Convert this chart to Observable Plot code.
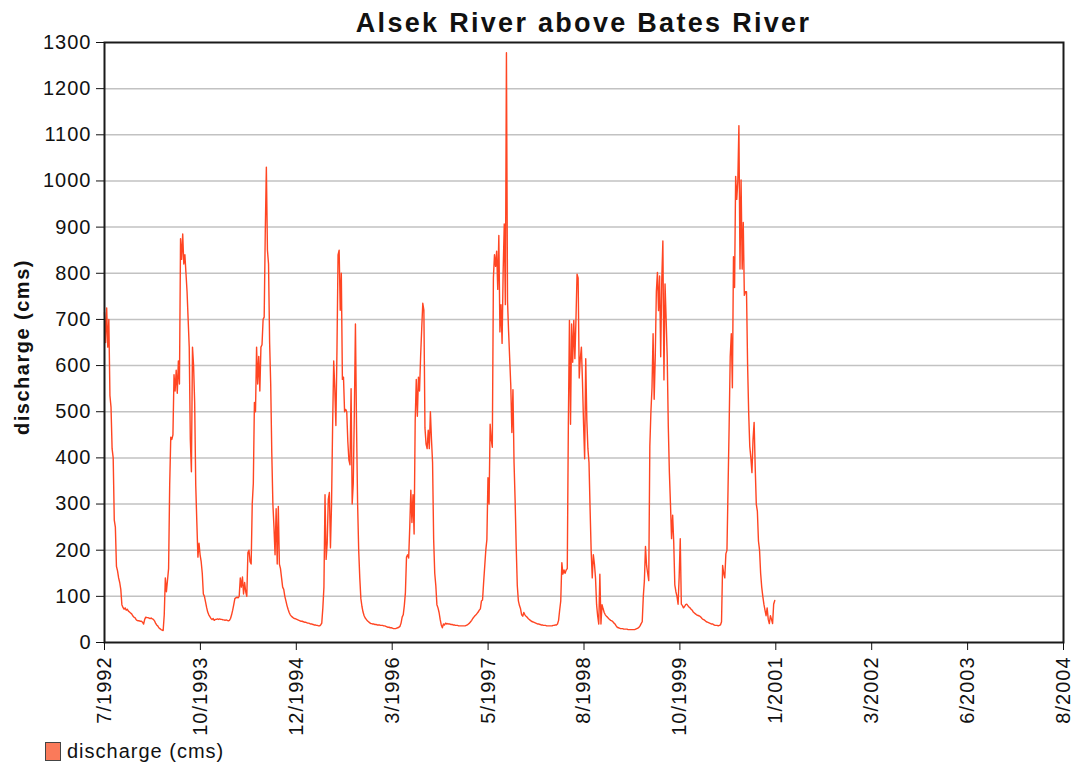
<!DOCTYPE html>
<html><head><meta charset="utf-8">
<script src="https://cdn.jsdelivr.net/npm/d3@7"></script>
<script src="https://cdn.jsdelivr.net/npm/@observablehq/plot@0.6"></script>
<style>
body{margin:0;background:#fff;font-family:"Liberation Sans",Arial,sans-serif;color:#111;}
#wrap{position:relative;width:1073px;height:767px;overflow:hidden;}
#title{position:absolute;left:104px;width:959px;top:10px;text-align:center;font-weight:bold;font-size:27px;line-height:27px;letter-spacing:2.3px;z-index:3;}
#chart{position:absolute;left:0;top:30px;z-index:1;}
#ylab{position:absolute;left:22px;top:347px;width:300px;margin-left:-150px;margin-top:-12px;text-align:center;transform:rotate(-90deg);font-weight:bold;font-size:20px;line-height:24px;letter-spacing:1.5px;z-index:3;}
#legend{position:absolute;left:45px;top:741px;display:flex;align-items:center;font-size:20px;line-height:20px;letter-spacing:1px;z-index:3;}
#legend .sw{width:16px;height:19px;background:#fa7a5a;border:1px solid #444;margin-right:6px;box-sizing:border-box;}
</style></head>
<body>
<div id="wrap">
  <div id="chart"></div>
  <div id="title"></div>
  <div id="ylab"></div>
  <div id="legend"><div class="sw"></div><span id="legtext"></span></div>
</div>
<script>
// ---- data ----
const chartTitle = "Alsek River above Bates River";
const yLabel = "discharge (cms)";
const seriesName = "discharge (cms)";
const startDate = "1992-07-20";
const endDate = "2004-08-20";
const stepDays = 5;
const yTicks = [0,100,200,300,400,500,600,700,800,900,1000,1100,1200,1300];
const xTickLabels = ["7/1992","10/1993","12/1994","3/1996","5/1997","8/1998","10/1999","1/2001","3/2002","6/2003","8/2004"];

// discharge readings, one every 5 days from startDate
const q1992_93 = [715,650,725,640,700,535,510,420,400,265,250,165,155,140,130,115,82,76,72,75,70,72,68,66,64,62,58,55,54,50,48,47,47,46,46,44,40,50,55,54,54,53,52,53,51,50,47,42,38,36,32,30,28,27,26,60,140,110,135,160,340,445,440,450,580,545,590,540,610,560,875,830,885];
const q1993_94 = [820,840,800,760,700,640,440,370,640,600,520,340,260,185,215,190,175,150,105,100,88,76,66,60,56,52,50,52,48,50,50,51,50,51,50,50,49,49,48,49,48,47,48,52,60,70,82,95,97,98,97,100,140,120,142,105,130,110,100,195,200,175,170,300,345,520,500,640,560,620,545,640,645];
const q1994_95 = [700,705,890,1030,850,820,650,560,410,300,250,190,290,170,295,170,160,140,120,115,100,90,80,72,65,60,57,55,53,52,51,50,49,48,47,46,46,45,44,44,43,42,42,41,40,40,39,38,38,37,37,36,36,38,42,75,120,320,180,215,310,325,205,300,470,610,550,470,635,840,850,720,800];
const q1995_96 = [570,575,500,505,500,435,395,385,550,300,345,500,690,470,300,200,140,95,78,66,58,53,50,47,45,43,41,41,40,40,39,39,38,38,38,37,37,37,36,36,35,34,33,33,32,32,31,30,30,30,31,32,33,35,42,55,60,80,108,185,190,183,250,330,260,320,235,480,570,490,575,545,620];
const q1996_97 = [680,735,720,465,430,420,460,420,500,440,390,223,150,123,82,75,65,50,38,32,40,38,42,40,41,40,40,39,39,38,38,37,37,37,36,36,36,36,36,36,36,37,38,40,42,45,48,52,55,58,60,63,66,70,73,90,92,130,165,200,223,357,300,473,440,423,790,840,815,848,765,882,673];
const q1997_98 = [732,648,807,907,732,1278,740,673,615,557,455,548,390,307,207,123,90,80,73,60,57,65,60,57,55,52,50,48,46,45,44,43,42,41,40,40,39,38,38,37,37,37,36,36,36,36,36,36,37,37,38,38,40,48,70,90,173,148,157,150,157,160,473,698,473,690,607,698,615,700,798,790,573];
const q1998_99 = [615,640,565,473,398,615,482,420,390,290,198,140,190,170,140,82,57,40,148,40,82,73,65,60,57,55,52,50,48,47,45,42,40,36,33,32,31,30,30,30,29,29,29,29,28,28,28,28,28,28,28,29,30,31,33,36,41,45,100,134,208,167,150,134,425,500,552,669,527,619,760,802,719];
const q1999_00 = [794,619,786,870,569,777,702,619,468,368,300,225,276,217,125,110,100,83,142,225,83,80,75,78,82,83,80,77,75,72,70,66,64,62,60,59,58,57,55,52,50,49,47,45,44,43,42,41,40,40,38,37,37,37,36,37,38,45,167,150,140,192,200,334,468,619,669,552,836,769,1010,960,1000];
const q2000 = [1120,809,1002,809,910,752,760,760,602,497,425,400,368,440,477,380,300,284,220,200,150,120,100,83,70,58,75,50,41,58,50,41,83,91];

// ---- build ----
const values = [q1992_93,q1993_94,q1994_95,q1995_96,q1996_97,q1997_98,q1998_99,q1999_00,q2000].flat();
const t0 = new Date(startDate + "T00:00:00Z");
const t1 = new Date(endDate + "T00:00:00Z");
const data = values.map((q, i) => ({date: new Date(t0.getTime() + i * stepDays * 864e5), q}));
const xTickDates = d3.range(xTickLabels.length).map(k => new Date(t0.getTime() + k * (t1 - t0) / (xTickLabels.length - 1)));
const labelByTime = new Map(xTickDates.map((d, k) => [d.getTime(), xTickLabels[k]]));

document.getElementById("title").textContent = chartTitle;
document.getElementById("ylab").textContent = yLabel;
document.getElementById("legtext").textContent = seriesName;

const chart = Plot.plot({
  width: 1073,
  height: 712,
  marginLeft: 104,
  marginRight: 10,
  marginTop: 12,
  marginBottom: 100,
  style: {fontFamily: '"Liberation Sans", Arial, sans-serif', fontSize: "20px", letterSpacing: "1px", color: "#111", background: "transparent", overflow: "visible"},
  x: {type: "utc", domain: [t0, t1]},
  y: {domain: [0, 1300]},
  marks: [
    Plot.ruleY(yTicks.filter(d => d > 0 && d < 1300), {stroke: "#c2c2c2", strokeWidth: 1.5}),
    Plot.line(data, {x: "date", y: "q", stroke: "#ff4522", strokeWidth: 1.4}),
    Plot.frame({stroke: "#1a1a1a", strokeWidth: 2}),
    Plot.axisY({ticks: yTicks, tickSize: 8, tickPadding: 5, tickFormat: d => String(d), label: null}),
    Plot.axisX({ticks: xTickDates, tickSize: 8, tickPadding: 6, tickRotate: -90, tickFormat: d => labelByTime.get(d.getTime()), label: null})
  ]
});
document.getElementById("chart").appendChild(chart);
</script>
</body></html>
